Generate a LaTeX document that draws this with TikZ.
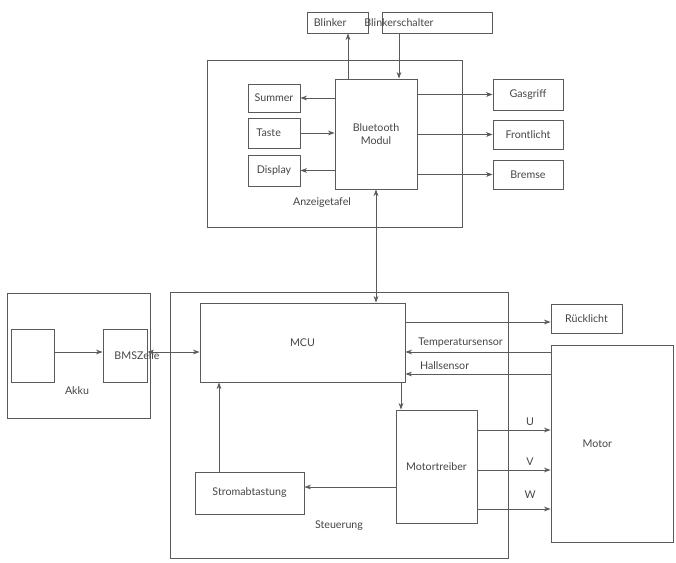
\documentclass[tikz,border=0pt]{standalone}
\usepackage{fontspec}
\setmainfont{Lato}
\usetikzlibrary{arrows.meta,fit,calc,positioning}
\definecolor{linecol}{HTML}{5A5A5A}
\definecolor{textcol}{HTML}{454545}
\tikzset{blk/.style={draw=linecol, inner sep=0pt},
	every label/.style={text=textcol, font=\fontsize{8}{9.5}\selectfont, align=center}}

\begin{document}
\begin{tikzpicture}[x=0.75pt, y=-0.75pt, >={Stealth[length=5pt,width=3.6pt]}, color=linecol, line width=0.6pt]
\useasboundingbox (0,0) rectangle (676,562);
% Anzeigetafel
\node[blk, fit={(207,60) (462,227)}, label={[anchor=center, shift={(-12.5,-25)}]south:Anzeigetafel}] (Anz){};
\node[blk, fit={(307,12) (368,33)}, label={[xshift=-5.5pt]center:Blinker}] (Blinker){};
\node[blk, fit={(382,12) (492,33)}, label={[xshift=-28.5pt]center:Blinkerschalter}] (Schalter){};
\node[blk, fit={(335,79) (417,189)}, label={center:Bluetooth\\Modul}] (BT){};
\node[blk, fit={(248,84) (300,112)}, label=center:Summer] (Summer){};
\node[blk, fit={(248,118) (300,148)}, label={[xshift=-4pt]center:Taste}] (Taste){};
\node[blk, fit={(248,155) (300,186)}, label=center:Display] (Display){};
\node[blk, fit={(493,79) (563,110)}, label=center:Gasgriff] (Gas){};
\node[blk, fit={(493,120) (563,149)}, label=center:Frontlicht] (Front){};
\node[blk, fit={(493,160) (563,189)}, label=center:Bremse] (Bremse){};
% Akku
\node[blk, fit={(7,293) (150,418)}, label={[anchor=center, shift={(-1.5,-28)}]south:Akku}] (Akku){};
\node[blk, fit={(11,329) (54,382)}] (Zelle){};
\node[blk, fit={(103,329) (147,382)}, label={[xshift=9pt]center:BMSZelle}] (BMS){};
% Steuerung
\node[blk, fit={(170,292) (508,558)}, label={[anchor=center, shift={(0,-33)}]south:Steuerung}] (Steu){};
\node[blk, fit={(200,303) (405,382)}, label=center:MCU] (MCU){};
\node[blk, fit={(396,410) (477,523)}, label=center:Motortreiber] (Treiber){};
\node[blk, fit={(195,472) (304,514)}, label=center:Stromabtastung] (Strom){};
\node[blk, fit={(551,304) (622,333)}, label=center:Rücklicht] (Rueck){};
\node[blk, fit={(551,345) (673,542)}, label={[xshift=-11pt]center:Motor}] (Motor){};

\path[->] (BT.north -| 348,0) edge (Blinker.south -| 348,0)
	(Schalter.south -| 399,0) edge (BT.north -| 399,0)
	(BT.west |- Summer) edge (Summer)
	(Taste) edge (BT.west |- Taste)
	(BT.west |- Display) edge (Display)
	(BT.east |- Gas) edge (Gas)
	(BT.east |- Front) edge (Front)
	(BT.east |- Bremse) edge (Bremse)
	(BT) edge [<->] (BT |- MCU.north)
	(Zelle.east |- 0,352) edge (BMS.west |- 0,352)
	(BMS.east |- 0,352) edge [<->] (MCU.west |- 0,352)
	(MCU.east |- 0,322) edge (Rueck.west |- 0,322)
	(Motor.west |- 0,352) edge node [above, pos=0.62, text=textcol, font=\fontsize{8}{9.5}\selectfont] {Temperatursensor} (MCU.east |- 0,352)
	(Motor.west |- 0,374) edge node [above, pos=0.73, text=textcol, font=\fontsize{8}{9.5}\selectfont] {Hallsensor} (MCU.east |- 0,374)
	(MCU.south -| 401,0) edge (Treiber.north -| 401,0)
	(Treiber.east |- 0,430) edge node [above, pos=0.72, text=textcol, font=\fontsize{8}{9.5}\selectfont] {U} (Motor.west |- 0,430)
	(Treiber.east |- 0,470) edge node [above, pos=0.72, text=textcol, font=\fontsize{8}{9.5}\selectfont] {V} (Motor.west |- 0,470)
	(Treiber.east |- 0,509) edge node [above=4pt, pos=0.72, text=textcol, font=\fontsize{8}{9.5}\selectfont] {W} (Motor.west |- 0,509)
	(Treiber.west |- 0,487) edge (Strom.east |- 0,487)
	(Strom.north -| 219,0) edge (MCU.south -| 219,0)
;
\end{tikzpicture}
\end{document}
